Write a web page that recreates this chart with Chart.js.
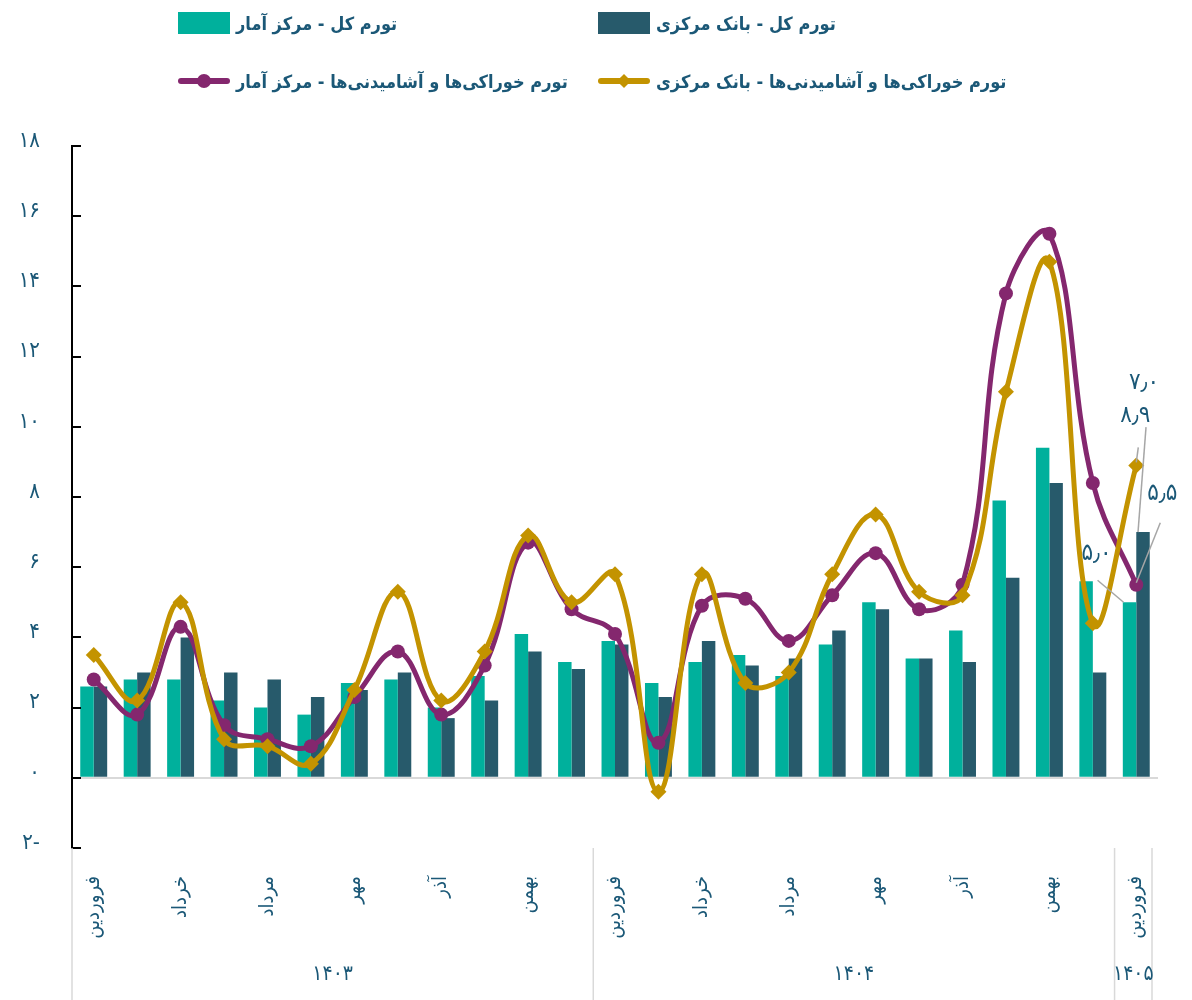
<!DOCTYPE html>
<html>
<head>
<meta charset="utf-8">
<script src="https://cdn.jsdelivr.net/npm/chart.js@4.4.1/dist/chart.umd.min.js"></script>
<style>
  body { margin: 0; background: #fff; }
  #wrap { position: relative; width: 1192px; height: 1000px; overflow: hidden; }
  #legend { position: absolute; left: 0; top: 0; width: 1192px; height: 120px; font-family: "DejaVu Sans Condensed", "DejaVu Sans", sans-serif; }
  .item { position: absolute; display: flex; align-items: center; height: 24px; }
  .txt { color: #1b5877; font-size: 18px; font-weight: bold; margin-left: 6px; white-space: nowrap; }
  .box { width: 52px; height: 22px; }
  .ln { position: relative; width: 52px; height: 24px; }
  .ln .bar { position: absolute; left: 0; right: 0; top: 9px; height: 6px; border-radius: 3px; }
  .ln .dot { position: absolute; left: 19px; top: 5px; width: 14px; height: 14px; border-radius: 50%; }
  .ln .dia { position: absolute; left: 21px; top: 7px; width: 10px; height: 10px; transform: rotate(45deg); }
</style>
</head>
<body>
<div id="wrap">
  <canvas id="chart" width="1192" height="1000"></canvas>
  <div id="legend"></div>
</div>
<script>
const monthNames = ['فروردین', 'اردیبهشت', 'خرداد', 'تیر', 'مرداد', 'شهریور', 'مهر', 'آبان', 'آذر', 'دی', 'بهمن', 'اسفند'];
const categories = [...monthNames, ...monthNames, 'فروردین'];
const years = ['۱۴۰۳', '۱۴۰۴', '۱۴۰۵'];
const yearSpans = [12, 12, 1];
const yTicks = [-2, 0, 2, 4, 6, 8, 10, 12, 14, 16, 18];

// تورم کل - مرکز آمار
const totalAmar = [2.6, 2.8, 2.8, 2.2, 2.0, 1.8, 2.7, 2.8, 2.0, 2.9, 4.1, 3.3, 3.9, 2.7, 3.3, 3.5, 2.9, 3.8, 5.0, 3.4, 4.2, 7.9, 9.4, 5.6, 5.0];
// تورم کل - بانک مرکزی
const totalBank = [2.6, 3.0, 4.0, 3.0, 2.8, 2.3, 2.5, 3.0, 1.7, 2.2, 3.6, 3.1, 3.8, 2.3, 3.9, 3.2, 3.4, 4.2, 4.8, 3.4, 3.3, 5.7, 8.4, 3.0, 7.0];
// تورم خوراکی‌ها - مرکز آمار
const foodAmar = [2.8, 1.8, 4.3, 1.5, 1.1, 0.9, 2.3, 3.6, 1.8, 3.2, 6.7, 4.8, 4.1, 1.0, 4.9, 5.1, 3.9, 5.2, 6.4, 4.8, 5.5, 13.8, 15.5, 8.4, 5.5];
// تورم خوراکی‌ها - بانک مرکزی
const foodBank = [3.5, 2.2, 5.0, 1.1, 0.9, 0.4, 2.5, 5.3, 2.2, 3.6, 6.9, 5.0, 5.8, -0.4, 5.8, 2.7, 3.0, 5.8, 7.5, 5.3, 5.2, 11.0, 14.7, 4.4, 8.9];

const TEXT = '#1b5877';
const FONT = '"DejaVu Sans Condensed", "DejaVu Sans", sans-serif';
const fa = (s) => String(s).replace(/\d/g, (d) => '۰۱۲۳۴۵۶۷۸۹'[d]);
const faNum = (v) => (v < 0 ? fa(-v) + '-' : fa(v));
const faDec = (v) => fa(v.toFixed(1)).replace('.', '٫');

const series = [
  { label: 'تورم کل - مرکز آمار', color: '#00b09c', kind: 'box', left: 178, top: 11 },
  { label: 'تورم کل -  بانک مرکزی', color: '#275a6b', kind: 'box', left: 598, top: 11 },
  { label: 'تورم خوراکی‌ها و آشامیدنی‌ها - مرکز آمار', color: '#84276e', kind: 'dot', left: 178, top: 69 },
  { label: 'تورم خوراکی‌ها و آشامیدنی‌ها - بانک مرکزی', color: '#c39300', kind: 'dia', left: 598, top: 69 },
];

(function buildLegend() {
  const legend = document.getElementById('legend');
  series.forEach((s) => {
    const item = document.createElement('div');
    item.className = 'item';
    item.style.left = s.left + 'px';
    item.style.top = s.top + 'px';
    let marker;
    if (s.kind === 'box') {
      marker = `<span class="box" style="background:${s.color}"></span>`;
    } else {
      marker = `<span class="ln"><span class="bar" style="background:${s.color}"></span><span class="${s.kind}" style="background:${s.color}"></span></span>`;
    }
    item.innerHTML = `${marker}<span class="txt" dir="rtl">${s.label}</span>`;
    legend.appendChild(item);
  });
})();

const extrasPlugin = {
  id: 'extras',
  afterDraw(chart) {
    const { ctx, chartArea, scales } = chart;
    const x = scales.x, y = scales.y;
    ctx.save();
    // inner tick marks on y axis
    ctx.strokeStyle = '#000';
    ctx.lineWidth = 2;
    yTicks.forEach((v) => {
      const py = Math.round(y.getPixelForValue(v));
      ctx.beginPath();
      ctx.moveTo(chartArea.left, py);
      ctx.lineTo(chartArea.left + 9, py);
      ctx.stroke();
    });
    // year separators and labels
    const half = (x.getPixelForValue(1) - x.getPixelForValue(0)) / 2;
    ctx.strokeStyle = '#d9d9d9';
    ctx.lineWidth = 1.5;
    let start = 0;
    const edges = [chartArea.left];
    yearSpans.forEach((n) => {
      start += n;
      edges.push(x.getPixelForValue(start - 1) + half - (start === categories.length ? 6 : 0));
    });
    edges.forEach((px) => {
      ctx.beginPath();
      ctx.moveTo(px, chartArea.bottom);
      ctx.lineTo(px, 1000);
      ctx.stroke();
    });
    ctx.fillStyle = TEXT;
    ctx.font = `21px ${FONT}`;
    ctx.textAlign = 'center';
    ctx.textBaseline = 'middle';
    years.forEach((yr, i) => {
      ctx.fillText(yr, (edges[i] + edges[i + 1]) / 2, 975);
    });
    // labels for the last month
    const last = categories.length - 1;
    const el = (d) => chart.getDatasetMeta(d).data[last];
    const vals = [totalAmar, totalBank, foodAmar, foodBank];
    const spots = [
      { d: 0, lx: -33, ly: -49, a: [-32, -22], b: [-6, 0] },
      { d: 1, lx: 1, ly: -149, a: [3, -105], b: [-5, 0] },
      { d: 2, lx: 26, ly: -91, a: [24, -62], b: [0, -2] },
      { d: 3, lx: -1, ly: -50, a: [2, -18], b: [0, -3] },
    ];
    ctx.font = `24px ${FONT}`;
    spots.forEach((s) => {
      const e = el(s.d);
      ctx.strokeStyle = '#a6a6a6';
      ctx.lineWidth = 1.5;
      ctx.beginPath();
      ctx.moveTo(e.x + s.a[0], e.y + s.a[1]);
      ctx.lineTo(e.x + s.b[0], e.y + s.b[1]);
      ctx.stroke();
      ctx.fillStyle = TEXT;
      ctx.fillText(faDec(vals[s.d][last]), e.x + s.lx, e.y + s.ly);
    });
    ctx.restore();
  },
};

new Chart(document.getElementById('chart'), {
  type: 'bar',
  data: {
    labels: categories,
    datasets: [
      { label: series[0].label, data: totalAmar, backgroundColor: series[0].color, order: 3, categoryPercentage: 0.62, barPercentage: 1.0 },
      { label: series[1].label, data: totalBank, backgroundColor: series[1].color, order: 3, categoryPercentage: 0.62, barPercentage: 1.0 },
      {
        type: 'line', label: series[2].label, data: foodAmar, borderColor: series[2].color, backgroundColor: series[2].color,
        borderWidth: 5, tension: 0.4, pointStyle: 'circle', pointRadius: 7, pointBorderWidth: 0, order: 2,
      },
      {
        type: 'line', label: series[3].label, data: foodBank, borderColor: series[3].color, backgroundColor: series[3].color,
        borderWidth: 5, tension: 0.4, pointStyle: 'rectRot', pointRadius: 8, pointBorderWidth: 0, order: 1,
      },
    ],
  },
  options: {
    responsive: false,
    animation: false,
    layout: { padding: { top: 146, right: 34, left: 0, bottom: 0 } },
    plugins: { legend: { display: false }, tooltip: { enabled: false } },
    scales: {
      x: {
        grid: { display: false },
        border: { display: false },
        ticks: {
          autoSkip: false, minRotation: 90, maxRotation: 90, padding: 20,
          color: TEXT, font: { family: FONT, size: 20 },
          callback: (v, i) => (i % 2 === 0 ? categories[i] : ''),
        },
        afterFit: (s) => { s.height = 152; },
      },
      y: {
        min: -2, max: 18,
        afterBuildTicks: (s) => { s.ticks = yTicks.map((v) => ({ value: v })); },
        grid: {
          drawTicks: false, lineWidth: 2,
          color: (c) => (c.tick && c.tick.value === 0 ? '#d9d9d9' : 'rgba(0,0,0,0)'),
        },
        border: { display: true, color: '#000', width: 2 },
        ticks: {
          padding: 32, labelOffset: -5, color: TEXT, font: { family: FONT, size: 22 },
          callback: (v) => faNum(v),
        },
        afterFit: (s) => { s.width = 72; },
      },
    },
  },
  plugins: [extrasPlugin],
});
</script>
</body>
</html>
